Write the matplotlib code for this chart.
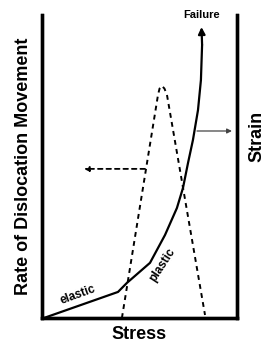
import matplotlib.pyplot as plt

plt.rcParams['font.family'] = ['Liberation Sans', 'DejaVu Sans']

# strain curve (solid)
strain_x = [0.010, 0.390, 0.436, 0.554, 0.631, 0.692, 0.723, 0.749, 0.774, 0.800, 0.815, 0.821]
strain_y = [0.000, 0.086, 0.116, 0.182, 0.274, 0.363, 0.429, 0.512, 0.587, 0.686, 0.785, 0.901]
failure_tip = (0.818, 0.960)

# rate of dislocation movement (dashed)
rate_x = [0.410, 0.595, 0.603, 0.615, 0.628, 0.641, 0.836]
rate_y = [0.000, 0.736, 0.757, 0.766, 0.757, 0.736, 0.010]

fig = plt.figure(figsize=(2.74, 3.5), dpi=100)
ax = fig.add_axes([0.153, 0.0914, 0.712, 0.866])
ax.set_xlim(0, 1)
ax.set_ylim(0, 1)

ax.plot(strain_x, strain_y, color='black', lw=1.6, solid_capstyle='round')
ax.annotate('', xy=failure_tip, xytext=(strain_x[-1], strain_y[-1]),
            arrowprops=dict(arrowstyle='-|>', color='black', lw=1.6,
                            mutation_scale=10, shrinkA=0, shrinkB=0))
ax.plot(rate_x, rate_y, color='black', lw=1.4, dashes=(2.5, 2.2))

# pointer arrows to each axis
ax.annotate('', xy=(0.215, 0.492), xytext=(0.528, 0.492),
            arrowprops=dict(arrowstyle='-|>', color='black', lw=1.3,
                            linestyle=(0, (2.5, 2.2)), mutation_scale=7,
                            shrinkA=0, shrinkB=0))
ax.annotate('', xy=(0.974, 0.617), xytext=(0.795, 0.617),
            arrowprops=dict(arrowstyle='-|>', color='#444444', lw=0.9,
                            mutation_scale=7, shrinkA=0, shrinkB=0))

ax.text(0.818, 1.0, 'Failure', ha='center', va='center', fontsize=8,
        fontweight='bold', clip_on=False)
ax.text(0.185, 0.075, 'elastic', ha='center', va='center', fontsize=8.5,
        fontweight='bold', rotation=20)
ax.text(0.615, 0.175, 'plastic', ha='center', va='center', fontsize=8.5,
        fontweight='bold', rotation=57)

ax.set_xlabel('Stress', fontsize=13, fontweight='bold', labelpad=6)
ax.set_ylabel('Rate of Dislocation Movement', fontsize=13, fontweight='bold', labelpad=7)
ax2 = ax.twinx()
ax2.set_yticks([])
ax2.set_ylabel('Strain', fontsize=13, fontweight='bold')
ax2.yaxis.set_label_coords(1.06, 0.6)

for a in (ax, ax2):
    a.spines['top'].set_visible(False)
    for side in ('left', 'right', 'bottom'):
        a.spines[side].set_linewidth(2.4)
ax.set_xticks([])
ax.set_yticks([])

fig.savefig('out.png', dpi=100)
